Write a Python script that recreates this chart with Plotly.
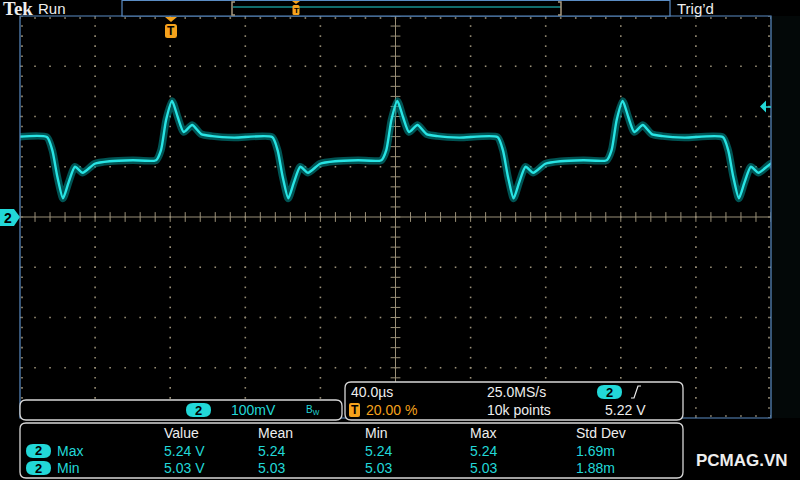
import numpy as np
import plotly.graph_objects as go

# screen geometry (pixels) of the graticule box
L, R, T, B = 20, 771, 16, 418

# time relative to trigger (us), 40 us/div, trigger at 20 % of record
t_range = [-80, 320]
# channel 2, 100 mV/div, centre 5.00 V
v_range = [4.6, 5.4]

t_us = [
    -86.0, -65.7, -62.8, -60.1, -57.1, -54.2, -50.7, -46.6, -40.2, -32.2, -19.9,
    -7.5, -4.9, -2.2, 1.0, 4.0, 7.2, 11.7, 16.5, 22.3, 34.0, 54.3, 57.2, 59.9,
    62.9, 65.8, 69.3, 73.4, 79.8, 87.8, 100.1,
    112.5, 115.1, 117.8, 121.0, 124.0, 127.2, 131.7, 136.5, 142.3, 154.0, 174.3,
    177.2, 179.9, 182.9, 185.8, 189.3, 193.4, 199.8, 207.8, 220.1,
    232.5, 235.1, 237.8, 241.0, 244.0, 247.2, 251.7, 256.5, 262.3, 274.0, 294.3,
    297.2, 299.9, 302.9, 305.8, 309.3, 313.4, 319.8, 327.8,
]
v_ch2 = [
    5.158, 5.159, 5.133, 5.080, 5.037, 5.068, 5.100, 5.088, 5.106, 5.111, 5.113,
    5.113, 5.133, 5.193, 5.231, 5.199, 5.169, 5.183, 5.165, 5.161, 5.158, 5.159,
    5.133, 5.080, 5.037, 5.068, 5.100, 5.088, 5.106, 5.111, 5.113,
    5.113, 5.133, 5.193, 5.231, 5.199, 5.169, 5.183, 5.165, 5.161, 5.158, 5.159,
    5.133, 5.080, 5.037, 5.068, 5.100, 5.088, 5.106, 5.111, 5.113,
    5.113, 5.133, 5.193, 5.231, 5.199, 5.169, 5.183, 5.165, 5.161, 5.158, 5.159,
    5.133, 5.080, 5.037, 5.068, 5.100, 5.088, 5.106, 5.111,
]

trig_level = 5.22
trig_time = 0.0

meas_cols = ["Value", "Mean", "Min", "Max", "Std Dev"]
meas_max = ["5.24 V", "5.24", "5.24", "5.24", "1.69m"]
meas_min = ["5.03 V", "5.03", "5.03", "5.03", "1.88m"]

CYAN = "#22d8d8"
ORANGE = "#f5a21c"
WHITE = "#eeeeee"
GRID = "#9a9078"
BLUE = "#5a8cc4"
FONT = "Liberation Sans"


def px(x):
    return (x - L) / (R - L)


def py(y):
    return (B - y) / (B - T)


def pt(x, y):
    return f"{px(x):.5f},{py(y):.5f}"


def rrect(x0, y0, x1, y1, r):
    return (f"M {pt(x0 + r, y0)} L {pt(x1 - r, y0)} Q {pt(x1, y0)} {pt(x1, y0 + r)} "
            f"L {pt(x1, y1 - r)} Q {pt(x1, y1)} {pt(x1 - r, y1)} "
            f"L {pt(x0 + r, y1)} Q {pt(x0, y1)} {pt(x0, y1 - r)} "
            f"L {pt(x0, y0 + r)} Q {pt(x0, y0)} {pt(x0 + r, y0)} Z")


def pshape(path, fill="black", line=None, width=1):
    return dict(type="path", xref="paper", yref="paper", path=path, layer="above",
                fillcolor=fill, line=dict(color=line or fill, width=width if line else 0))


def text(x, y, s, color=WHITE, size=14, anchor="left", bold=False, family=FONT):
    if bold:
        s = f"<b>{s}</b>"
    return dict(x=px(x), y=py(y), xref="paper", yref="paper", text=s, showarrow=False,
                xanchor=anchor, yanchor="middle", font=dict(color=color, size=size, family=family))


fig = go.Figure()

# graticule dots
div_t = (t_range[1] - t_range[0]) / 10
div_v = (v_range[1] - v_range[0]) / 8
t_minor = np.arange(t_range[0], t_range[1] + 0.01, div_t / 5)
v_minor = np.arange(v_range[0], v_range[1] + 0.001, div_v / 5)
t_major = [t_range[0] + k * div_t for k in range(1, 10) if k != 5]
v_major = [v_range[0] + k * div_v for k in range(1, 8) if k != 4]
t_mid = t_range[0] + 5 * div_t
v_mid = v_range[0] + 4 * div_v
eps_t = 2 * (t_range[1] - t_range[0]) / (R - L)
eps_v = 2 * (v_range[1] - v_range[0]) / (B - T)

gx, gy = [], []
for tm in t_major:
    gx += [tm] * len(v_minor)
    gy += list(v_minor)
for vm in v_major:
    gx += list(t_minor)
    gy += [vm] * len(t_minor)
for vb in (v_range[1] - eps_v, v_range[0] + eps_v):
    gx += list(t_minor)
    gy += [vb] * len(t_minor)
for tb in (t_range[0] + eps_t, t_range[1] - eps_t):
    gx += [tb] * len(v_minor)
    gy += list(v_minor)
fig.add_trace(go.Scatter(x=gx, y=gy, mode="markers", hoverinfo="skip",
                         marker=dict(symbol="square", size=1.6, color=GRID, line=dict(width=0))))
fig.add_trace(go.Scatter(x=t_minor, y=[v_mid] * len(t_minor), mode="markers", hoverinfo="skip",
                         marker=dict(symbol="line-ns", size=7, line=dict(color=GRID, width=1))))
fig.add_trace(go.Scatter(x=[t_mid] * len(v_minor), y=v_minor, mode="markers", hoverinfo="skip",
                         marker=dict(symbol="line-ew", size=7, line=dict(color=GRID, width=1))))

# waveform: persistence halo + bright core
fig.add_trace(go.Scatter(x=t_us, y=v_ch2, mode="lines", hoverinfo="skip",
                         line=dict(color="rgba(0,140,140,0.6)", width=7.5, shape="spline", smoothing=0.6)))
fig.add_trace(go.Scatter(x=t_us, y=v_ch2, mode="lines", hoverinfo="skip",
                         line=dict(color="#28e4e4", width=2.4, shape="spline", smoothing=0.6)))

shapes = [
    dict(type="line", xref="x", yref="y", x0=t_mid, x1=t_mid, y0=v_range[0], y1=v_range[1],
         line=dict(color=GRID, width=1), layer="below"),
    dict(type="line", xref="x", yref="y", x0=t_range[0], x1=t_range[1], y0=v_mid, y1=v_mid,
         line=dict(color=GRID, width=1), layer="below"),
    # graticule border and the strip right of it
    dict(type="rect", xref="paper", yref="paper", x0=1, x1=px(800), y0=0, y1=1,
         fillcolor="#030808", line=dict(width=0), layer="below"),
    dict(type="rect", xref="paper", yref="paper", x0=0, x1=1, y0=0, y1=1,
         line=dict(color=BLUE, width=1.2), layer="above"),
    # record view at top
    dict(type="rect", xref="paper", yref="paper", x0=px(122), x1=px(670), y0=py(16), y1=py(0.5),
         fillcolor="black", line=dict(color=BLUE, width=1.2), layer="above"),
    dict(type="line", xref="paper", yref="paper", x0=px(233), x1=px(561), y0=py(7), y1=py(7),
         line=dict(color=CYAN, width=1), layer="above"),
    dict(type="path", xref="paper", yref="paper", layer="above",
         path=f"M {pt(235, 2)} L {pt(232, 2)} L {pt(232, 15)} L {pt(235, 15)}",
         line=dict(color="#a89a80", width=1.5)),
    dict(type="path", xref="paper", yref="paper", layer="above",
         path=f"M {pt(558, 2)} L {pt(561, 2)} L {pt(561, 15)} L {pt(558, 15)}",
         line=dict(color="#a89a80", width=1.5)),
    pshape(f"M {pt(292, 1)} L {pt(300, 1)} L {pt(296, 4)} Z", fill=ORANGE),
    pshape(rrect(292.5, 5, 299.5, 15, 1.5), fill=ORANGE),
    # trigger position marker
    pshape(f"M {pt(165, 17)} L {pt(177, 17)} L {pt(171, 22)} Z", fill=ORANGE),
    pshape(rrect(165, 24, 177, 38, 2.5), fill=ORANGE),
    # channel 2 marker on the left
    pshape(f"M {pt(0, 209)} L {pt(14, 209)} L {pt(20, 217)} L {pt(14, 226)} L {pt(0, 226)} Z",
           fill=CYAN),
    # trigger level arrow on the right
    dict(type="line", xref="paper", yref="paper", x0=px(765), x1=px(771), y0=py(107), y1=py(107),
         line=dict(color=CYAN, width=1.5), layer="above"),
    # readout panels
    pshape(rrect(20, 400, 342, 420, 6), fill="black", line="#d8d8d8", width=1.3),
    pshape(rrect(345, 382, 683, 420, 6), fill="black", line="#d8d8d8", width=1.3),
    pshape(rrect(20, 423, 683, 478, 6), fill="black", line="#d8d8d8", width=1.3),
    pshape(rrect(186, 403, 211, 417, 7), fill=CYAN),
    pshape(rrect(597, 385, 622, 399, 7), fill=CYAN),
    pshape(rrect(26, 444, 51, 458, 7), fill=CYAN),
    pshape(rrect(26, 461, 51, 475, 7), fill=CYAN),
    pshape(rrect(349, 403, 360, 417, 2), fill=ORANGE),
    dict(type="path", xref="paper", yref="paper", layer="above",
         path=f"M {pt(631, 398)} L {pt(634, 398)} L {pt(638, 386)} L {pt(641, 386)}",
         line=dict(color=WHITE, width=1.2)),
]

# trigger level arrow head, placed on the voltage scale
shapes.append(dict(type="path", xref="paper", yref="y", layer="above",
                   path=(f"M {px(760):.5f},{trig_level} L {px(766):.5f},{trig_level + 0.012} "
                         f"L {px(766):.5f},{trig_level - 0.012} Z"),
                   fillcolor=CYAN, line=dict(width=0)))

annotations = [
    text(1, 8, "Tek", size=19, bold=True, family="Liberation Serif"),
    text(36, 8, "Run", size=15),
    text(675, 8, "Trig’d", size=15),
    text(296, 10.5, "T", color="black", size=8, anchor="center", bold=True),
    text(171, 31, "T", color="black", size=12, anchor="center", bold=True),
    text(8, 218, "2", color="black", size=14, anchor="center", bold=True),
    text(198.5, 410, "2", color="black", size=13, anchor="center", bold=True),
    text(229, 410, "100mV", color=CYAN),
    text(304, 410, "B<sub>W</sub>", color=CYAN, size=10),
    text(349, 392, "40.0µs"),
    text(485, 392, "25.0MS/s"),
    text(609.5, 392, "2", color="black", size=13, anchor="center", bold=True),
    text(354.5, 410, "T", color="black", size=12, anchor="center", bold=True),
    text(364, 410, "20.00 %", color=ORANGE),
    text(485, 410, "10k points"),
    text(603, 410, f"{trig_level:.2f} V"),
    text(742, 461, "PCMAG.VN", size=17, anchor="center", bold=True),
]

col_x = [162, 256, 363, 468, 574]
for cx, name, vmax, vmin in zip(col_x, meas_cols, meas_max, meas_min):
    annotations.append(text(cx, 433, name))
    annotations.append(text(cx, 451, vmax, color=CYAN))
    annotations.append(text(cx, 468, vmin, color=CYAN))
for yy, lab in ((451, "Max"), (468, "Min")):
    annotations.append(text(38.5, yy, "2", color="black", size=13, anchor="center", bold=True))
    annotations.append(text(55, yy, lab, color=CYAN))

fig.update_layout(
    width=800, height=480,
    margin=dict(l=L, r=800 - R, t=T, b=480 - B, pad=0),
    paper_bgcolor="black", plot_bgcolor="black",
    showlegend=False,
    xaxis=dict(range=t_range, visible=False, fixedrange=True),
    yaxis=dict(range=v_range, visible=False, fixedrange=True),
    shapes=shapes,
    annotations=annotations,
)

# the page body has a default margin; drop it so the figure fills the window
fig.write_html("out.html", config={"displayModeBar": False},
               post_script="document.body.style.margin='0';document.body.style.background='black';")
